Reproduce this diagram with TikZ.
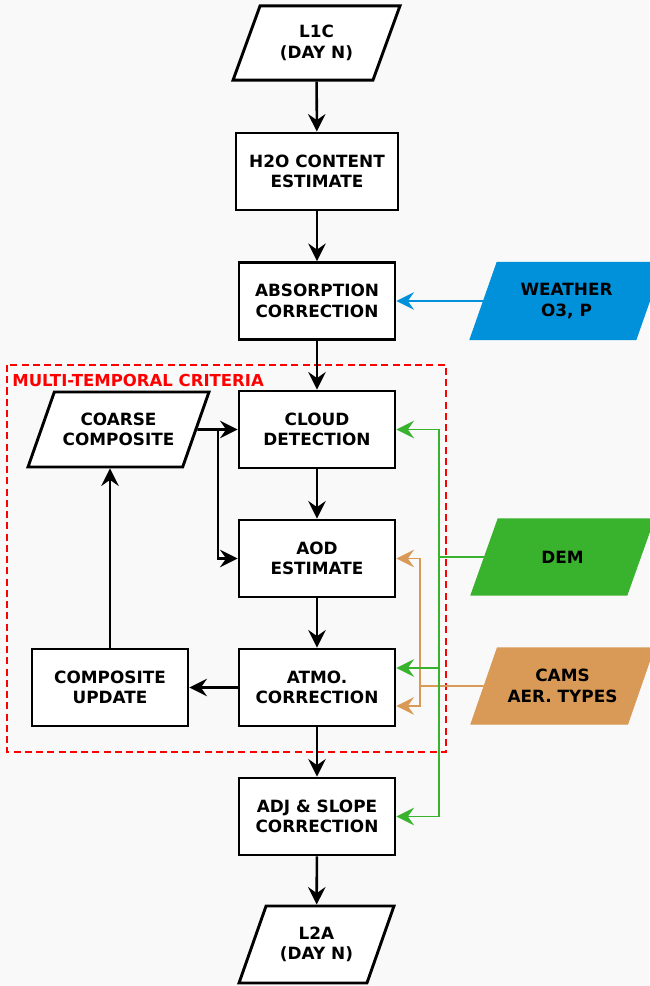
\documentclass[tikz,border=0pt]{standalone}
\usepackage{fontspec}
\setmainfont{DejaVu Sans}
\usetikzlibrary{shapes.geometric,arrows.meta}

\definecolor{bggray}{RGB}{249,249,249}
\definecolor{wxblue}{RGB}{0,145,218}
\definecolor{demgreen}{RGB}{57,178,46}
\definecolor{camsorange}{RGB}{216,154,86}

\tikzset{
  procbox/.style={draw, line width=1.65pt, fill=white, minimum width=3.12cm,
    minimum height=1.54cm, align=center, inner sep=2pt,
    font=\bfseries\fontsize{9.6}{11.7}\selectfont},
  databox/.style={procbox, trapezium, trapezium left angle=70,
    trapezium right angle=110, trapezium stretches body, inner ysep=0.39cm},
  flow/.style={line width=1.45pt, -{Stealth[length=10pt, width=10pt, inset=3.5pt]}},
  feed/.style={line width=1.1pt},
}

\begin{document}
\begin{tikzpicture}[x=0.02cm, y=-0.02cm]
\fill[bggray] (0,0) rectangle (649,986);
\useasboundingbox (0,0) rectangle (649,986);

% multi-temporal part
\draw[red, line width=1.3pt, dash pattern=on 4pt off 2.4pt] (7,365) rectangle (446,752);
\node[anchor=west, text=red, inner sep=0pt, font=\bfseries\fontsize{9.4}{11}\selectfont] (mtlabel) at (12,380) {MULTI-TEMPORAL CRITERIA};

% main chain
\node[databox, minimum width=3.34cm, minimum height=1.48cm] (l1c) at (316.5,43) {L1C\\(DAY N)};
\node[procbox, minimum width=3.24cm] (h2o) at (317,171.5) {H2O CONTENT\\ESTIMATE};
\node[procbox] (absorp) at (317,301) {ABSORPTION\\CORRECTION};
\node[procbox] (cloud) at (317,429.5) {CLOUD\\DETECTION};
\node[procbox] (aod) at (317,558.5) {AOD\\ESTIMATE};
\node[procbox] (atmo) at (317,687.5) {ATMO.\\CORRECTION};
\node[procbox] (adj) at (317,816.5) {ADJ \& SLOPE\\CORRECTION};
\node[databox, minimum width=3.1cm] (l2a) at (316.5,944.5) {L2A\\(DAY N)};

% composite loop
\node[databox, minimum width=3.62cm, minimum height=1.5cm] (coarse) at (118.5,429.5) {COARSE\\COMPOSITE};
\node[procbox] (update) at (110,687.5) {COMPOSITE\\UPDATE};

% auxiliary inputs
\node[databox, draw=wxblue, fill=wxblue, line width=0.6pt, minimum width=3.86cm] (weather) at (566.5,301) {WEATHER\\O3, P};
\node[databox, draw=demgreen, fill=demgreen, line width=0.6pt, minimum width=3.66cm, minimum height=1.52cm, inner ysep=0.62cm] (dem) at (562.5,557) {DEM};
\node[databox, draw=camsorange, fill=camsorange, line width=0.6pt, minimum width=3.66cm, minimum height=1.52cm] (cams) at (562.5,686) {CAMS\\AER. TYPES};

\coordinate (csplit) at (218,429.5);
\coordinate (gbus) at (439,557);
\coordinate (obus) at (420,686);

\draw[flow] (l1c) -- (h2o);
\draw[flow] (h2o) -- (absorp);
\draw[flow] (absorp) -- (cloud);
\draw[flow] (cloud) -- (aod);
\draw[flow] (aod) -- (atmo);
\draw[flow] (atmo) -- (adj);
\draw[flow] (adj) -- (l2a);

\draw[flow] (coarse) -- (cloud);
\draw[flow] (csplit) |- (aod.west);
\draw[flow] (atmo) -- (update);
\draw[flow] (update.north) -- (update.north |- coarse.south);

\draw[flow, feed, wxblue] (weather) -- (absorp);

\draw[feed, camsorange] (cams.west) -- (obus);
\draw[flow, feed, camsorange] (obus) |- (aod.east);
\draw[flow, feed, camsorange] (obus) |- ([yshift=-0.37cm]atmo.east);

\draw[feed, demgreen] (dem.west) -- (gbus);
\draw[flow, feed, demgreen] (gbus) |- (cloud.east);
\draw[flow, feed, demgreen] (gbus) |- ([yshift=0.39cm]atmo.east);
\draw[flow, feed, demgreen] (gbus) |- (adj.east);
\end{tikzpicture}
\end{document}
